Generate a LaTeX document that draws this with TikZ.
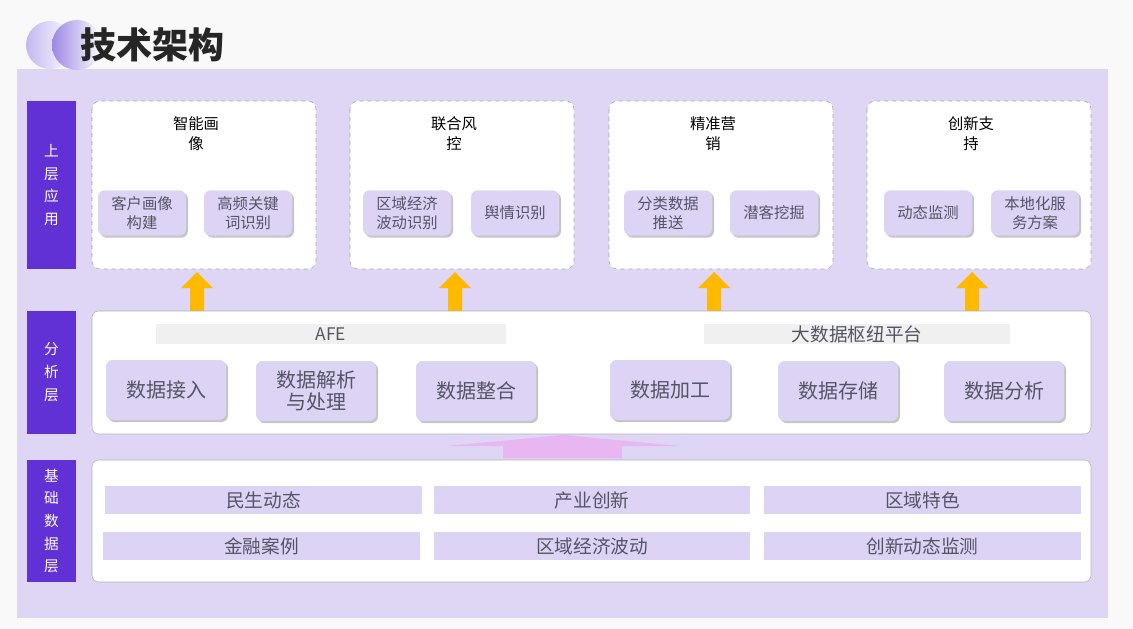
\documentclass[tikz,border=0pt]{standalone}
\usepackage{fontspec}
\setmainfont{Noto Sans CJK SC}
\usetikzlibrary{shadows}
\definecolor{bgpanel}{HTML}{DFD5F5}
\definecolor{sidebar}{HTML}{6131D6}
\definecolor{subfill}{HTML}{DDD3F5}
\definecolor{arrowyel}{HTML}{FFBA00}
\definecolor{arrowpink}{HTML}{E8B6F0}
\definecolor{txtgray}{HTML}{555566}
\definecolor{circviolet}{HTML}{9C88E4}
\tikzset{
  sidelabel/.style={fill=sidebar,text=white,font=\fontsize{11}{14}\selectfont,align=center},
  appcard/.style={draw=gray!70,dashed,fill=white,rounded corners=6pt},
  subbox/.style={fill=subfill,rounded corners=5pt,drop shadow={shadow xshift=1.5pt,shadow yshift=-1.5pt,opacity=0.45},
    text=txtgray,font=\fontsize{11.5}{14}\selectfont,align=center},
  bigbox/.style={subbox,font=\fontsize{15}{17}\selectfont},
  layerpanel/.style={draw=gray!60,fill=white,rounded corners=5pt},
  barbox/.style={fill=subfill,text=txtgray,font=\fontsize{14}{16}\selectfont},
  upyel/.style={fill=arrowyel}
}
\begin{document}
\begin{tikzpicture}[x=0.75pt,y=0.75pt,yscale=-1,xscale=1]
\useasboundingbox (0,0) rectangle (1133,629);
\fill[gray!5] (0,0) rectangle (1133,629);
\fill[bgpanel] (17,69) rectangle (1108,618);
% title
\shade[left color=circviolet!60,right color=white] (50,45) circle (24);
\shade[left color=circviolet,right color=white] (77,45) circle (25);
\node[anchor=west,font=\fontsize{27}{30}\selectfont\bfseries,text=black!85] (title) at (76,45) {技术架构};
% side labels
\fill[sidelabel] (27,101) rectangle (76,269);
\node[text=white,font=\fontsize{11}{17}\selectfont,align=center] (lup) at (51.5,185) {上\\层\\应\\用};
\fill[sidelabel] (27,311) rectangle (76,434);
\node[text=white,font=\fontsize{11}{17}\selectfont,align=center] (lmid) at (51.5,372) {分\\析\\层};
\fill[sidelabel] (27,460) rectangle (76,582);
\node[text=white,font=\fontsize{11}{17}\selectfont,align=center] (lbot) at (51.5,521) {基\\础\\数\\据\\层};
% upper application cards
\foreach \x/\p/\q/\t/\a/\b in {92/50/156/智能画\\像/客户画像\\构建/高频关键\\词识别,
                         350/57/165/联合风\\控/区域经济\\波动识别/舆情识别,
                         609/59/165/精准营\\销/分类数据\\推送/潜客挖掘,
                         867/61/168/创新支\\持/动态监测/本地化服\\务方案}{
  \draw[appcard] (\x,101) rectangle ({\x+224},269);
  \node[font=\fontsize{11.5}{15}\selectfont,align=center] at ({\x+104},134) {\t};
  \node[subbox,minimum width=66pt,minimum height=34pt] at ({\x+\p},213) {\a};
  \node[subbox,minimum width=66pt,minimum height=34pt] at ({\x+\q},213) {\b};
  \fill[upyel] ({\x+98},311) -- ({\x+98},288) -- ({\x+89},288) -- ({\x+105},272) -- ({\x+121},288) -- ({\x+112},288) -- ({\x+112},311) -- cycle;
}
% analysis layer
\draw[layerpanel] (92,311) rectangle (1091,434);
\fill[gray!12] (156,324) rectangle (506,344);
\node[text=txtgray,font=\fontsize{13}{15}\selectfont] (afe) at (331,334) {AFE};
\fill[gray!12] (704,324) rectangle (1010,344);
\node[text=txtgray,font=\fontsize{14}{16}\selectfont] (hub) at (857,334) {大数据枢纽平台};
\node[bigbox,minimum width=90pt,minimum height=45pt] (in)    at (166,390) {数据接入};
\node[bigbox,minimum width=90pt,minimum height=45pt] (parse) at (316,391) {数据解析\\与处理};
\node[bigbox,minimum width=90pt,minimum height=45pt] (merge) at (476,391) {数据整合};
\node[bigbox,minimum width=90pt,minimum height=45pt] (proc)  at (670,390) {数据加工};
\node[bigbox,minimum width=90pt,minimum height=45pt] (store) at (838,391) {数据存储};
\node[bigbox,minimum width=90pt,minimum height=45pt] (anal)  at (1004,391) {数据分析};
% pink arrow
\fill[arrowpink] (503,458) -- (503,446) -- (447,446) -- (563,435) -- (680,446) -- (622,446) -- (622,458) -- cycle;
% base layer
\draw[layerpanel] (92,460) rectangle (1091,582);
\foreach \x/\w/\t in {105/317/民生动态, 434/316/产业创新, 764/317/区域特色}
  \node[barbox,minimum width=\w*0.75pt,minimum height=21pt] at ({\x+\w/2},500) {\t};
\foreach \x/\w/\t in {103/317/金融案例, 434/316/区域经济波动, 764/317/创新动态监测}
  \node[barbox,minimum width=\w*0.75pt,minimum height=21pt] at ({\x+\w/2},546) {\t};
\end{tikzpicture}
\end{document}
